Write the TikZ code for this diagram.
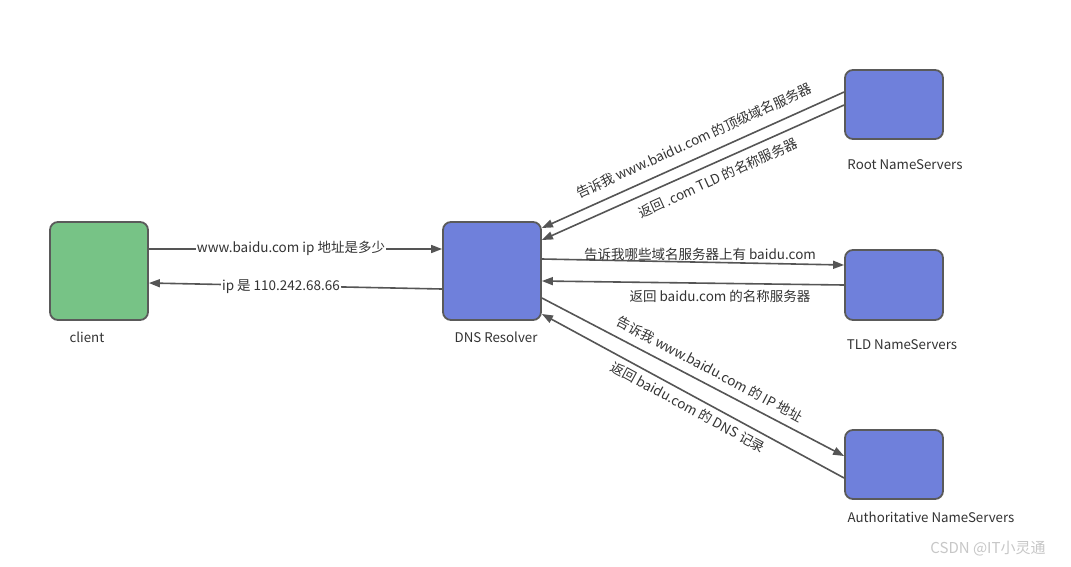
\documentclass[tikz,border=0pt]{standalone}
\usepackage{fontspec}
\setmainfont{Noto Sans CJK SC}
\usetikzlibrary{arrows.meta}
\definecolor{boxline}{HTML}{5A5A5A}
\definecolor{greenfill}{HTML}{77C386}
\definecolor{bluefill}{HTML}{6F80DB}
\definecolor{arrowcol}{HTML}{555555}
\definecolor{txt}{HTML}{333333}
\tikzset{
  srv/.style={draw=boxline, line width=1.8pt, rounded corners=8pt, minimum width=98pt, inner sep=0pt},
  captxt/.style={text=txt, font=\fontsize{13.3}{16}\selectfont, inner sep=0pt},
  lbl/.style={text=txt, font=\fontsize{13.5}{16}\selectfont, fill=white, inner sep=1pt},
  conn/.style={draw=arrowcol, line width=1.6pt, -{Triangle[length=11pt,width=8pt]}},
}
\begin{document}
\begin{tikzpicture}[x=1pt,y=-1pt]
\useasboundingbox (0,0) rectangle (1071,566);
\fill[white] (0,0) rectangle (1071,566);
% boxes
\node[srv, fill=greenfill, minimum height=98pt] (client) at (99,271) {};
\node[srv, fill=bluefill, minimum height=98pt] (res) at (492,271) {};
\node[srv, fill=bluefill, minimum height=69pt] (root) at (894,104.5) {};
\node[srv, fill=bluefill, minimum height=70pt] (tld) at (894,285) {};
\node[srv, fill=bluefill, minimum height=69pt] (auth) at (894,464.5) {};
% captions
\node[captxt] (cclient) at (87,337) {client};
\node[captxt] (cres) at (496,337) {DNS Resolver};
\node[captxt] (croot) at (905,165) {Root NameServers};
\node[captxt] (ctld) at (902,345) {TLD NameServers};
\node[captxt] (cauth) at (931,517) {Authoritative NameServers};
% connectors
\draw[conn] ([yshift=22pt]client.east) -- ([yshift=22pt]res.west);
\draw[conn] ([yshift=-18pt]res.west) -- ([yshift=-12pt]client.east);
\draw[conn] ([yshift=12.5pt]root.west) -- ([yshift=43pt]res.east);
\draw[conn] ([yshift=-0.5pt]root.west) -- ([yshift=31pt]res.east);
\draw[conn] ([yshift=12pt]res.east) -- ([yshift=20pt]tld.west);
\draw[conn] (tld.west) -- ([yshift=-10pt]res.east);
\draw[conn] ([yshift=-27pt]res.east) -- ([yshift=8.5pt]auth.west);
\draw[conn] ([yshift=-13.5pt]auth.west) -- ([yshift=-43pt]res.east);
% labels
\node[lbl] (l1) at (291,248) {www.baidu.com ip 地址是多少};
\node[lbl] (l2) at (281,287) {ip 是 110.242.68.66};
\node[lbl, fill=none, rotate=24.5] (l3) at (694,141) {告诉我 www.baidu.com 的顶级域名服务器};
\node[lbl, fill=none, rotate=24.5] (l4) at (718,178) {返回 .com TLD 的名称服务器};
\node[lbl, fill=none] (l5) at (700,254) {告诉我哪些域名服务器上有 baidu.com};
\node[lbl, fill=none] (l6) at (720,296) {返回 baidu.com 的名称服务器};
\node[lbl, fill=none, rotate=-28] (l7) at (710,369) {告诉我 www.baidu.com 的 IP 地址};
\node[lbl, fill=none, rotate=-28.5] (l8) at (688,407) {返回 baidu.com 的 DNS 记录};
% watermark
\node[text=black!22, font=\fontsize{15}{18}\selectfont, inner sep=0pt] (wm) at (988,549) {CSDN @IT小灵通};
\end{tikzpicture}
\end{document}
